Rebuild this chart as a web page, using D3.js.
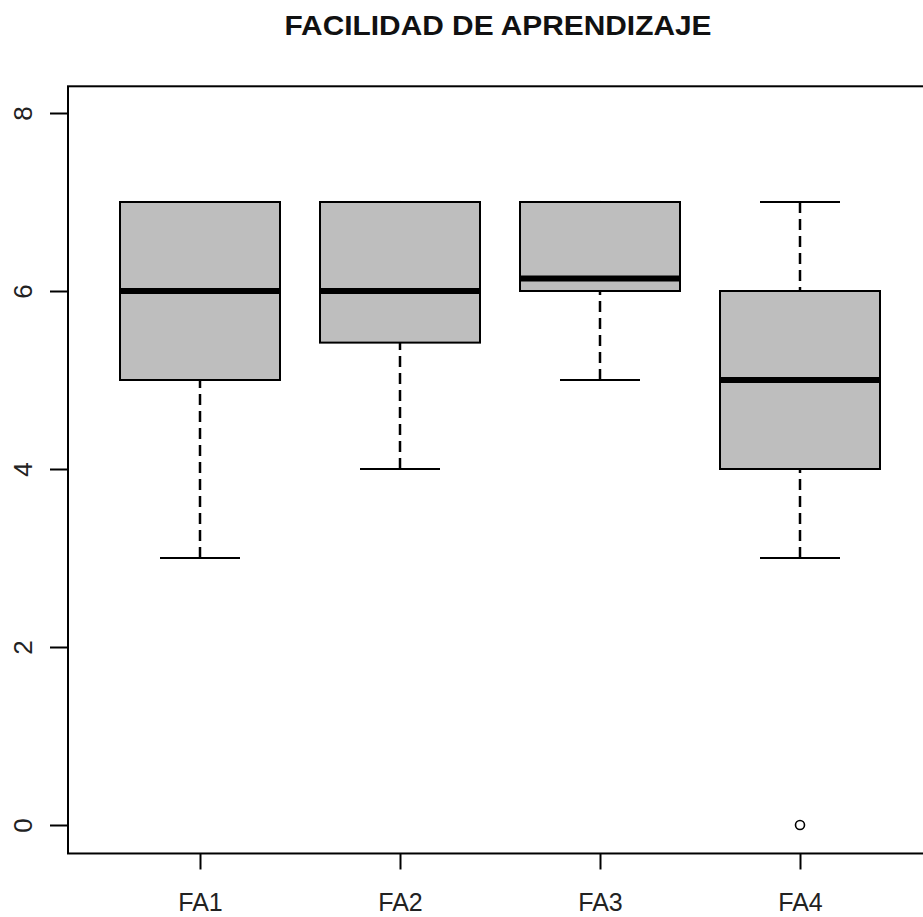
<!DOCTYPE html>
<html>
<head>
<meta charset="utf-8">
<script src="https://cdn.jsdelivr.net/npm/d3@7"></script>
<style>
  body { margin: 0; background: #fff; }
  svg { display: block; font-family: "Liberation Sans", Arial, sans-serif; }
</style>
</head>
<body>
<script>
// box statistics
const categories = ["FA1", "FA2", "FA3", "FA4"];
const mins    = [3, 4, 5, 3];
const q1s     = [5, 5.42, 6, 4];
const medians = [6, 6, 6.14, 5];
const q3s     = [7, 7, 7, 6];
const maxs    = [7, 7, 7, 7];
const outliers = [[], [], [], [0]];
const yTicks = [0, 2, 4, 6, 8];
const title = "FACILIDAD DE APRENDIZAJE";

const W = 923, H = 917;

const svg = d3.select("body").append("svg")
    .attr("width", W)
    .attr("height", H);

// x: category index 1..4, y: value
var xScale = d3.scaleLinear().domain([1, 4]).range([200, 800]);
var yScale = d3.scaleLinear().domain([0, 8]).range([825, 113]);

const boxHalf = 0.4, capHalf = 0.2;

var data = categories.map(function (c, i) {
    return { name: c, i: i + 1, min: mins[i], q1: q1s[i], med: medians[i], q3: q3s[i], max: maxs[i], out: outliers[i] };
});

// plot frame (right side runs off the page)
svg.append("rect")
    .attr("x", xScale(0.34))
    .attr("y", yScale(8.3))
    .attr("width", xScale(4.66) - xScale(0.34))
    .attr("height", yScale(-0.32) - yScale(8.3))
    .attr("fill", "none")
    .attr("stroke", "#000")
    .attr("stroke-width", 2);

// y axis
const yAxis = d3.axisLeft(yScale).tickValues(yTicks).tickSize(18).tickFormat(d3.format("d"));
const yg = svg.append("g")
    .attr("transform", "translate(" + xScale(0.34) + ",0)")
    .call(yAxis);
yg.select(".domain").remove();
yg.selectAll(".tick line").attr("stroke", "#000").attr("stroke-width", 2);
yg.selectAll(".tick text").remove();
yg.selectAll(".tick").append("text")
    .attr("transform", "translate(" + (32 - xScale(0.34)) + ",0) rotate(-90)")
    .attr("text-anchor", "middle")
    .attr("fill", "#222")
    .attr("font-size", 26)
    .text(d => d);

// x axis
const xAxis = d3.axisBottom(xScale).tickValues([1, 2, 3, 4]).tickSize(16).tickFormat(d => categories[d - 1]);
const xg = svg.append("g")
    .attr("transform", "translate(0," + yScale(-0.32) + ")")
    .call(xAxis);
xg.select(".domain").remove();
xg.selectAll(".tick line").attr("stroke", "#000").attr("stroke-width", 2);
xg.selectAll(".tick text")
    .attr("y", 58)
    .attr("dy", null)
    .attr("fill", "#222")
    .attr("font-size", 25)
    .attr("font-family", "\"Liberation Sans\", Arial, sans-serif");

// boxes
const g = svg.selectAll(".box").data(data).enter().append("g").attr("class", "box");

// whiskers, drawn from the extreme toward the hinge (dash starts at the cap)
g.append("line")
    .attr("x1", d => xScale(d.i)).attr("x2", d => xScale(d.i))
    .attr("y1", d => yScale(d.min)).attr("y2", d => yScale(d.q1))
    .attr("stroke", "#000").attr("stroke-width", 2.5).attr("stroke-dasharray", "11,6");
g.append("line")
    .attr("x1", d => xScale(d.i)).attr("x2", d => xScale(d.i))
    .attr("y1", d => yScale(d.max)).attr("y2", d => yScale(d.q3))
    .attr("stroke", "#000").attr("stroke-width", 2.5).attr("stroke-dasharray", "11,6");

// caps
g.append("line")
    .attr("x1", d => xScale(d.i - capHalf)).attr("x2", d => xScale(d.i + capHalf))
    .attr("y1", d => yScale(d.min)).attr("y2", d => yScale(d.min))
    .attr("stroke", "#000").attr("stroke-width", 2);
g.append("line")
    .attr("x1", d => xScale(d.i - capHalf)).attr("x2", d => xScale(d.i + capHalf))
    .attr("y1", d => yScale(d.max)).attr("y2", d => yScale(d.max))
    .attr("stroke", "#000").attr("stroke-width", 2);

// box body
g.append("rect")
    .attr("x", d => xScale(d.i - boxHalf))
    .attr("y", d => yScale(d.q3))
    .attr("width", d => xScale(d.i + boxHalf) - xScale(d.i - boxHalf))
    .attr("height", d => yScale(d.q1) - yScale(d.q3))
    .attr("fill", "#bebebe")
    .attr("stroke", "#000")
    .attr("stroke-width", 2);

// median
g.append("line")
    .attr("x1", d => xScale(d.i - boxHalf)).attr("x2", d => xScale(d.i + boxHalf))
    .attr("y1", d => yScale(d.med)).attr("y2", d => yScale(d.med))
    .attr("stroke", "#000").attr("stroke-width", 6);

// outliers
g.selectAll(".out").data(d => d.out.map(v => ({ i: d.i, v: v }))).enter()
    .append("circle")
    .attr("class", "out")
    .attr("cx", d => xScale(d.i))
    .attr("cy", d => yScale(d.v))
    .attr("r", 4.5)
    .attr("fill", "none")
    .attr("stroke", "#000")
    .attr("stroke-width", 1.6);

// title
svg.append("text")
    .attr("x", 498)
    .attr("y", 35)
    .attr("text-anchor", "middle")
    .attr("font-size", 27)
    .attr("font-weight", "bold")
    .attr("fill", "#111")
    .attr("textLength", 427)
    .attr("lengthAdjust", "spacingAndGlyphs")
    .text(title);
</script>
</body>
</html>
